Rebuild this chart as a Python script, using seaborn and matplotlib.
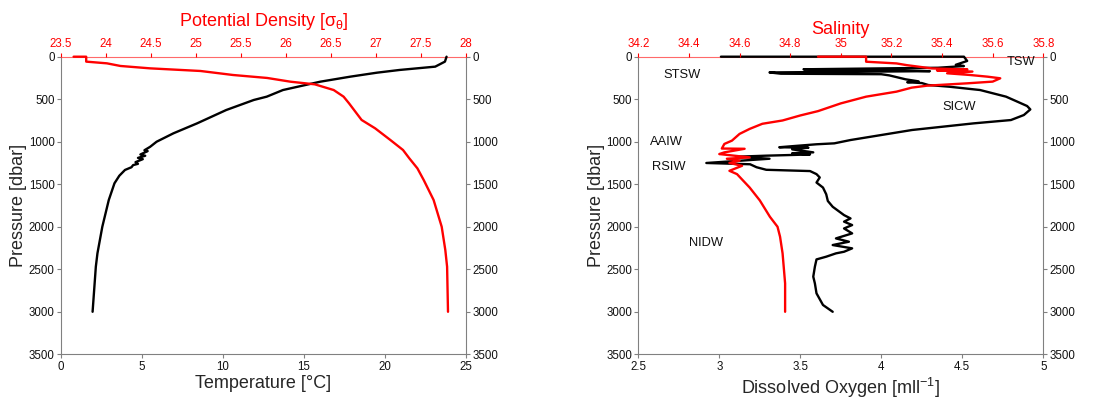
import matplotlib
matplotlib.use("Agg")
import matplotlib.pyplot as plt
from matplotlib.ticker import FuncFormatter, MultipleLocator
import seaborn as sns

# ---------------- Left panel: temperature and potential density ----------------
temp_pres = [0, 58, 117, 156, 188, 235, 294, 392, 470, 509, 627, 784, 901, 1000,
             1060, 1100, 1110, 1150, 1165, 1190, 1205, 1240, 1260, 1275, 1300,
             1332, 1400, 1489, 1685, 2000, 2312, 2470, 3000]
temp_val = [23.8, 23.7, 23.1, 20.9, 19.5, 17.85, 16.0, 13.7, 12.7, 11.9, 10.2, 8.4,
            6.94, 5.9, 5.5, 5.15, 5.35, 4.9, 5.2, 4.75, 5.05, 4.6, 4.75, 4.45, 4.35,
            3.95, 3.6, 3.3, 2.95, 2.55, 2.25, 2.15, 1.95]

dens_pres = [0, 0, 58, 78, 109, 137, 168, 215, 250, 294, 325, 392, 470, 548, 744,
             842, 980, 1097, 1195, 1313, 1450, 1685, 2000, 2273, 2470, 3000]
dens_val = [23.64, 23.78, 23.78, 24.01, 24.16, 24.49, 25.05, 25.41, 25.79, 26.05,
            26.32, 26.53, 26.64, 26.70, 26.84, 26.99, 27.16, 27.30, 27.37, 27.46,
            27.53, 27.64, 27.73, 27.77, 27.79, 27.80]

# ---------------- Right panel: salinity and dissolved oxygen ----------------
sal_pres = [0, 0, 59, 79, 99, 138, 150, 162, 175, 195, 215, 235, 254, 293, 313, 325,
            341, 364, 411, 470, 549, 640, 691, 750, 789, 849, 908, 987, 1026, 1080,
            1083, 1125, 1145, 1184, 1200, 1223, 1250, 1283, 1342, 1381, 1539, 1690,
            1883, 2000, 2117, 2313, 2666, 3000]
sal_val = [34.91, 35.10, 35.10, 35.22, 35.26, 35.36, 35.50, 35.38, 35.52, 35.42,
           35.51, 35.58, 35.63, 35.60, 35.50, 35.43, 35.34, 35.28, 35.22, 35.10,
           35.00, 34.91, 34.84, 34.77, 34.69, 34.64, 34.60, 34.57, 34.54, 34.53,
           34.62, 34.54, 34.52, 34.64, 34.55, 34.60, 34.56, 34.61, 34.56, 34.59,
           34.64, 34.68, 34.72, 34.75, 34.76, 34.77, 34.78, 34.78]

oxy_pres = [0, 0, 50, 95, 110, 130, 148, 160, 170, 185, 200, 206, 220, 266, 290, 300,
            310, 333, 353, 392, 470, 529, 580, 620, 686, 745, 784, 823, 862, 921, 980,
            1019, 1030, 1054, 1065, 1070, 1090, 1125, 1135, 1150, 1164, 1176, 1200,
            1250, 1265, 1300, 1330, 1345, 1381, 1420, 1480, 1539, 1618, 1697, 1765,
            1863, 1902, 1940, 1980, 2020, 2078, 2137, 2176, 2215, 2254, 2294, 2313,
            2352, 2384, 2470, 2587, 2666, 2783, 2920, 3000]
oxy_val = [3.01, 4.51, 4.53, 4.46, 4.51, 4.35, 3.52, 4.10, 4.30, 3.31, 3.38, 4.00,
           4.05, 4.15, 4.23, 4.16, 4.25, 4.29, 4.42, 4.61, 4.77, 4.84, 4.90, 4.92,
           4.88, 4.80, 4.57, 4.38, 4.19, 4.00, 3.81, 3.71, 3.60, 3.44, 3.37, 3.55,
           3.45, 3.58, 3.45, 3.56, 3.29, 3.11, 3.31, 2.92, 3.19, 3.23, 3.29, 3.56,
           3.60, 3.62, 3.60, 3.64, 3.66, 3.67, 3.70, 3.77, 3.81, 3.77, 3.82, 3.77,
           3.82, 3.72, 3.80, 3.70, 3.82, 3.77, 3.72, 3.66, 3.60, 3.59, 3.58, 3.59,
           3.60, 3.64, 3.70]

# Water mass annotations (oxygen axis units, pressure)
mass_names = ["STSW", "TSW", "SICW", "AAIW", "RSIW", "NIDW"]
mass_oxy = [2.77, 4.86, 4.48, 2.675, 2.685, 2.92]
mass_pres = [215, 59, 595, 1000, 1294, 2195]

sns.set_style("white")
plt.rcParams["font.family"] = ["Liberation Sans", "DejaVu Sans"]
plt.rcParams["mathtext.fontset"] = "custom"
plt.rcParams["mathtext.rm"] = "Liberation Sans"
plt.rcParams["mathtext.it"] = "Liberation Sans:italic"
plt.rcParams["mathtext.sf"] = "Liberation Sans"

GREY = "#808080"
RED = "#ff0000"
W, H = 1099, 399
fmt = FuncFormatter(lambda v, _: f"{v:g}")


def draw_line(ax, x, p, color):
    sns.lineplot(x=x, y=p, sort=False, estimator=None, color=color,
                 linewidth=1.7, ax=ax)
    for ln in ax.lines:
        ln.set_clip_on(False)
        ln.set_zorder(3)


def build_panel(left_px, bottom_range, top_range, bottom_step, top_step,
                bottom_label, top_label, x_bot, p_bot, x_top, p_top,
                bottom_pad, top_pad):
    ax = fig.add_axes([left_px / W, 1 - 354.3 / H, 405 / W, 297.6 / H])
    draw_line(ax, x_bot, p_bot, "black")
    ax.set_xlim(*bottom_range)
    ax.set_ylim(3500, 0)
    ax.xaxis.set_major_locator(MultipleLocator(bottom_step))
    ax.yaxis.set_major_locator(MultipleLocator(500))
    ax.xaxis.set_major_formatter(fmt)
    ax.yaxis.set_major_formatter(fmt)
    ax.tick_params(axis="both", which="major", direction="out", length=3,
                   width=0.8, color=GREY, labelsize=8.3, pad=1.5,
                   labelcolor="#111111")
    ax.tick_params(axis="y", left=True, right=True, labelleft=True, labelright=True)
    ax.tick_params(axis="x", bottom=True, top=False)
    for s in ["left", "right", "bottom"]:
        ax.spines[s].set_color(GREY)
        ax.spines[s].set_linewidth(0.8)
    # red frame edge for the upper (density / salinity) scale
    ax.spines["top"].set_color("#ff6a6a")
    ax.spines["top"].set_linewidth(0.8)
    ax.set_xlabel(bottom_label, fontsize=13, labelpad=bottom_pad)
    ax.set_ylabel("Pressure [dbar]", fontsize=13, labelpad=1)

    top = ax.twiny()
    draw_line(top, x_top, p_top, RED)
    top.set_xlim(*top_range)
    top.set_ylim(3500, 0)
    top.xaxis.set_major_locator(MultipleLocator(top_step))
    top.xaxis.set_major_formatter(fmt)
    top.tick_params(axis="x", direction="out", length=3, width=0.8, color=RED,
                    labelcolor=RED, labelsize=8.3, pad=1.5)
    for s in ["left", "right", "bottom", "top"]:
        top.spines[s].set_visible(False)
    top.set_xlabel(top_label, fontsize=13, color=RED, labelpad=top_pad)
    top.set_ylabel("")
    return ax, top


fig = plt.figure(figsize=(W / 100, H / 100), dpi=100)

ax1, top1 = build_panel(61, (0, 25), (23.5, 28), 5, 0.5,
                        "Temperature [°C]", r"Potential Density [σ$_{\mathrm{θ}}$]",
                        temp_val, temp_pres, dens_val, dens_pres,
                        bottom_pad=2, top_pad=9)

ax2, top2 = build_panel(638.3, (2.5, 5), (34.2, 35.8), 0.5, 0.2,
                        r"Dissolved Oxygen [mll$^{\mathrm{-1}}$]", "Salinity",
                        oxy_val, oxy_pres, sal_val, sal_pres,
                        bottom_pad=2.5, top_pad=3)

for name, o, p in zip(mass_names, mass_oxy, mass_pres):
    ax2.text(o, p, name, ha="center", va="center", fontsize=9.3, color="#111111",
             zorder=5)

fig.savefig("out.png", dpi=100, facecolor="white")
